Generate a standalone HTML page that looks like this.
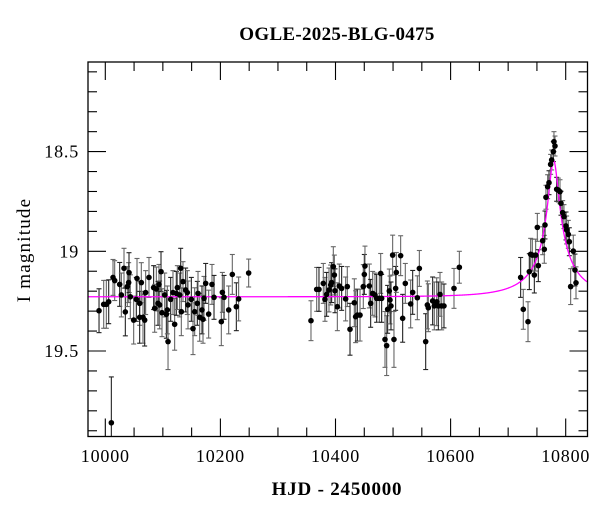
<!DOCTYPE html>
<html><head><meta charset="utf-8"><style>
body{margin:0;background:#fff;}
svg text{font-family:"Liberation Serif",serif;fill:#000;}
</style></head><body>
<svg id="chart" width="600" height="512" viewBox="0 0 600 512" xmlns="http://www.w3.org/2000/svg">
<text x="337" y="40" text-anchor="middle" font-size="19" font-weight="bold" letter-spacing="0.3">OGLE-2025-BLG-0475</text>
<text x="337" y="495" text-anchor="middle" font-size="19" font-weight="bold" letter-spacing="0.8">HJD - 2450000</text>
<text transform="translate(30,250) rotate(-90)" text-anchor="middle" font-size="19" letter-spacing="1.2">I magnitude</text>
<g id="axes"></g>
<g id="errs"></g>
<path id="model" fill="none" stroke="#ff00ff" stroke-width="1.3"></path>
<g id="pts"></g>
<rect x="88" y="62" width="499.5" height="374.5" fill="none" stroke="#000" stroke-width="1.3"/>
</svg>
<script>
const days=[9989.1,9997.2,10001.8,10005.9,10013.4,10016.3,10025.0,10027.9,10032.5,10034.8,10038.3,10040.6,10041.2,10043.5,10049.3,10053.9,10055.1,10059.7,10059.7,10062.6,10065.5,10068.4,10070.1,10075.9,10084.0,10085.8,10088.7,10091.6,10093.3,10094.5,10096.8,10098.5,10103.2,10106.1,10107.8,10109.0,10113.6,10117.6,10120.5,10123.4,10125.2,10129.2,10131.0,10132.1,10135.0,10139.6,10142.5,10143.7,10149.5,10152.4,10155.3,10159.9,10161.1,10164.0,10168.0,10169.8,10171.5,10174.4,10179.6,10185.4,10188.9,10201.6,10203.4,10206.3,10214.4,10220.7,10227.7,10231.7,10249.1,10010.5,
10357.4,10367.3,10371.3,10378.8,10381.7,10384.6,10388.7,10391.6,10393.3,10396.2,10398.0,10399.1,10403.2,10406.6,10410.7,10417.6,10420.5,10425.2,10432.7,10435.0,10437.9,10442.6,10448.3,10450.1,10451.2,10458.8,10461.1,10464.6,10468.6,10471.5,10476.2,10478.5,10480.2,10486.0,10488.9,10490.6,10493.5,10494.7,10496.4,10499.3,10501.6,10504.5,10505.7,10513.2,10516.7,10521.3,10530.6,10534.1,10542.2,10545.7,10556.7,10559.6,10561.3,10568.8,10571.7,10575.8,10578.7,10581.6,10584.5,10588.5,10605.9,10615.2,
10721.7,10726.3,10734.5,10736.8,10739.1,10742.0,10745.5,10747.8,10750.7,10752.4,10760.0,10762.8,10764.0,10765.7,10768.6,10771.0,10773.8,10775.6,10778.5,10779.6,10781.4,10784.3,10787.2,10790.1,10791.8,10794.7,10797.0,10800.5,10801.6,10804.5,10806.3,10808.6,10813.2,10816.1,10817.9];
const mags=[19.298,19.266,19.266,19.253,19.131,19.147,19.166,19.219,19.085,19.304,19.177,19.157,19.107,19.228,19.345,19.241,19.136,19.261,19.331,19.157,19.331,19.345,19.207,19.131,19.182,19.286,19.189,19.261,19.166,19.269,19.102,19.308,19.219,19.316,19.294,19.453,19.241,19.207,19.366,19.211,19.182,19.219,19.085,19.303,19.152,19.194,19.207,19.269,19.241,19.388,19.303,19.261,19.211,19.331,19.294,19.341,19.236,19.161,19.315,19.166,19.231,19.353,19.206,19.231,19.294,19.116,19.278,19.239,19.109,19.86,
19.348,19.191,19.191,19.161,19.241,19.216,19.194,19.169,19.157,19.077,19.119,19.198,19.278,19.174,19.186,19.239,19.177,19.391,19.258,19.328,19.320,19.320,19.177,19.116,19.074,19.174,19.261,19.211,19.219,19.236,19.236,19.111,19.236,19.442,19.473,19.291,19.199,19.244,19.274,19.019,19.442,19.186,19.106,19.022,19.336,19.161,19.264,19.206,19.233,19.086,19.453,19.269,19.283,19.249,19.274,19.253,19.274,19.216,19.274,19.274,19.186,19.080,
19.131,19.291,19.353,19.102,19.015,19.019,19.119,19.019,18.880,19.072,18.947,18.990,18.868,18.729,18.676,18.656,18.564,18.542,18.500,18.450,18.472,18.689,18.693,18.701,18.759,18.806,18.826,18.873,18.893,18.915,18.952,19.177,18.999,19.094,19.158];
const errs=[0.11,0.12,0.12,0.11,0.09,0.1,0.11,0.11,0.1,0.12,0.1,0.1,0.1,0.11,0.12,0.11,0.1,0.11,0.13,0.1,0.13,0.13,0.11,0.1,0.11,0.12,0.11,0.11,0.1,0.12,0.1,0.12,0.11,0.12,0.12,0.14,0.11,0.11,0.13,0.11,0.11,0.11,0.1,0.12,0.1,0.11,0.11,0.12,0.11,0.13,0.12,0.11,0.11,0.12,0.12,0.12,0.11,0.1,0.12,0.1,0.11,0.12,0.1,0.11,0.12,0.1,0.12,0.11,0.07,0.23,
0.1,0.11,0.11,0.1,0.11,0.11,0.11,0.1,0.1,0.1,0.1,0.11,0.12,0.11,0.11,0.11,0.1,0.13,0.12,0.13,0.13,0.13,0.11,0.1,0.1,0.11,0.12,0.11,0.11,0.12,0.12,0.1,0.12,0.14,0.15,0.12,0.11,0.12,0.12,0.1,0.14,0.11,0.1,0.1,0.12,0.1,0.12,0.11,0.11,0.09,0.14,0.12,0.12,0.12,0.12,0.12,0.12,0.11,0.12,0.11,0.1,0.08,
0.1,0.1,0.1,0.09,0.08,0.08,0.09,0.08,0.07,0.08,0.07,0.07,0.07,0.06,0.06,0.06,0.05,0.05,0.05,0.05,0.05,0.06,0.06,0.06,0.06,0.06,0.06,0.07,0.07,0.07,0.07,0.09,0.08,0.08,0.08];
const xTicks=[10000,10200,10400,10600,10800];
const yTicks=[18.5,19,19.5];
const yTickLabels=["18.5","19","19.5"];
const model={t0:10779,tE:88,u0:0.1,fs:0.097,base:19.228};

const L=88,R=587.5,T=62,B=436.5;
const sx=d=>105.3+(d-10000)*0.5755;
const sy=m=>251.3+(m-19)*199.4;
const NS="http://www.w3.org/2000/svg";
function mk(tag,attrs,parent){const e=document.createElementNS(NS,tag);for(const k in attrs)e.setAttribute(k,attrs[k]);parent.appendChild(e);return e;}
const ax=document.getElementById('axes');
function line(x1,y1,x2,y2){const l=mk('line',{x1,y1,x2,y2,stroke:'#000','stroke-width':1.1},ax);

}
for(let d=9950;d<=10850;d+=50){const x=sx(d);if(x<L||x>R)continue;const len=(d%200===0)?18:9;line(x,B,x,B-len);line(x,T,x,T+len);}
for(let i=180;i<=200;i++){const m=i/10;const y=sy(m);if(y<T||y>B)continue;const len=(i%5===0)?18:9;line(L,y,L+len,y);line(R,y,R-len,y);}
xTicks.forEach(d=>{const t=mk('text',{x:sx(d),y:462,'text-anchor':'middle','font-size':18,'letter-spacing':0.8},ax);t.textContent=String(d);

});
yTicks.forEach((m,i)=>{const t=mk('text',{x:79,y:sy(m)+6,'text-anchor':'end','font-size':18,'letter-spacing':0.8},ax);t.textContent=yTickLabels[i];

});
const eg=document.getElementById('errs'),pg=document.getElementById('pts');
days.forEach((d,i)=>{const x=sx(d),y=sy(mags[i]);let y1=sy(mags[i]-errs[i]),y2=Math.min(sy(mags[i]+errs[i]),B);
const g=mk('g',{stroke:i%3===0?'#222':'#666','stroke-width':1.1},eg);


mk('line',{x1:x,y1:y1,x2:x,y2:y2},g);mk('line',{x1:x-2.5,y1:y1,x2:x+2.5,y2:y1},g);if(y2<B)mk('line',{x1:x-2.5,y1:y2,x2:x+2.5,y2:y2},g);
const c=mk('circle',{cx:x,cy:y,r:2.8,fill:'#000'},pg);

});
let p='';for(let d=9970;d<=10837;d+=0.5){const tau=(d-model.t0)/model.tE;const u=Math.sqrt(model.u0*model.u0+tau*tau);const A=(u*u+2)/(u*Math.sqrt(u*u+4));const F=model.fs*(A-1)+1;const m=model.base-2.5*Math.log10(F);p+=(p?'L':'M')+Math.max(sx(d),L).toFixed(2)+','+sy(m).toFixed(2);}
document.getElementById('model').setAttribute('d',p);
</script>
</body></html>
